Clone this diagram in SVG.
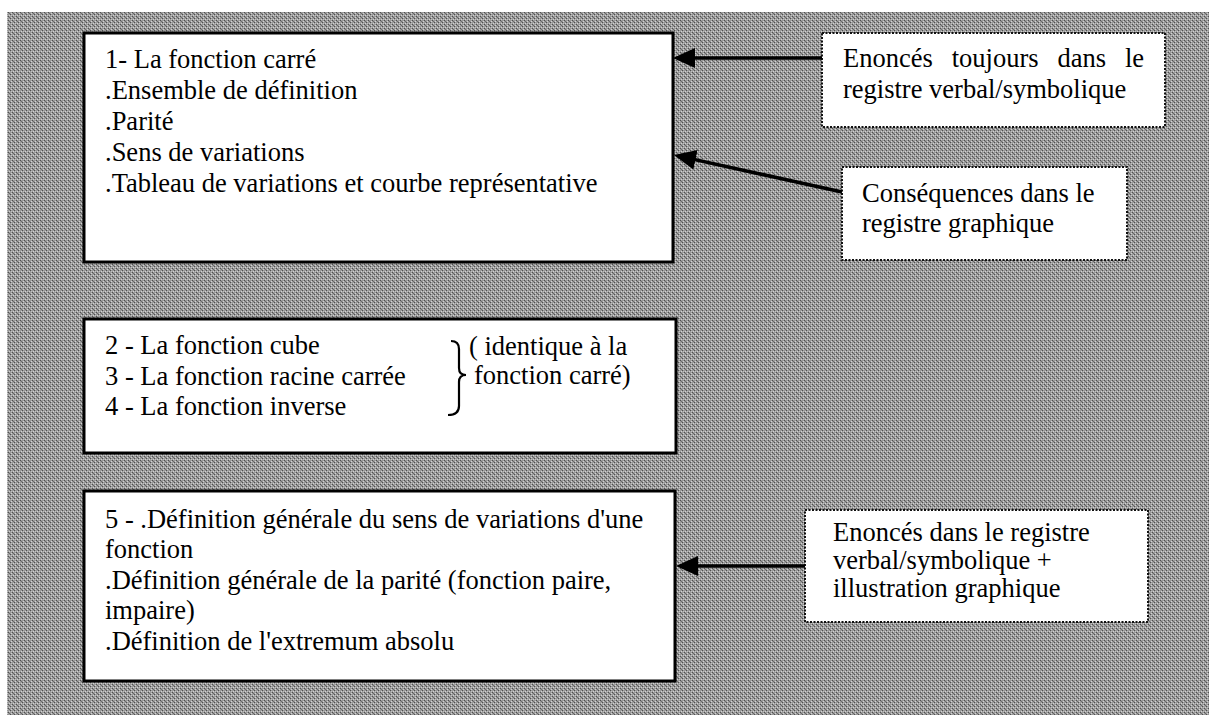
<svg xmlns="http://www.w3.org/2000/svg" width="1209" height="715" viewBox="0 0 1209 715">
<style>
.t{font-family:"Liberation Serif","Times New Roman",Times,serif;font-size:26.5px;fill:#000}
.box{fill:#fff;stroke:#000;stroke-width:3}
.note{fill:#fff;stroke:#111;stroke-width:2;stroke-dasharray:2 1.5}
.conn{stroke:#000;stroke-width:3.5;fill:none}
.brace{stroke:#000;stroke-width:2.2;fill:none}
</style>
<defs>
<pattern id="dither" width="4" height="4" patternUnits="userSpaceOnUse">
<rect width="4" height="4" fill="#9a9a9a"/>
<rect x="0" y="0" width="1" height="1" fill="#505050"/>
<rect x="2" y="2" width="1" height="1" fill="#505050"/>
<rect x="1" y="1" width="1" height="1" fill="#6e6e6e"/>
<rect x="1" y="3" width="1" height="1" fill="#d2d2d2"/>
<rect x="3" y="1" width="1" height="1" fill="#d2d2d2"/>
<rect x="3" y="3" width="1" height="1" fill="#c0c0c0"/>
</pattern>
<marker id="ah" markerUnits="userSpaceOnUse" markerWidth="22" markerHeight="20" refX="18" refY="10" orient="auto">
<path d="M0,0 L22,10 L0,20 z" fill="#000"/>
</marker>
</defs>
<rect id="background" x="7" y="12" width="1202" height="703" fill="url(#dither)"/>

<g id="box1">
<rect class="box" x="84" y="33" width="589" height="229"/>
<text class="t" x="105" y="68">1- La fonction carré</text>
<text class="t" x="105" y="99">.Ensemble de définition</text>
<text class="t" x="105" y="130">.Parité</text>
<text class="t" x="105" y="161">.Sens de variations</text>
<text class="t" x="105" y="192">.Tableau de variations et courbe représentative</text>
</g>

<g id="box2">
<rect class="box" x="84" y="319" width="592" height="134"/>
<text class="t" x="105" y="354">2 - La fonction cube</text>
<text class="t" x="105" y="384.5">3 - La fonction racine carrée</text>
<text class="t" x="105" y="415">4 - La fonction inverse</text>
<path class="brace" d="M451,341 Q459,341 459,349 L459,368 Q459,375 466,375 Q459,375 459,382 L459,406 Q459,415 448,415"/>
<text class="t" x="469" y="355">( identique à la</text>
<text class="t" x="474" y="384">fonction carré)</text>
</g>

<g id="box3">
<rect class="box" x="84" y="491" width="591" height="190"/>
<text class="t" x="105" y="528">5 - .Définition générale du sens de variations d'une</text>
<text class="t" x="105" y="558">fonction</text>
<text class="t" x="105" y="588.5">.Définition générale de la parité (fonction paire,</text>
<text class="t" x="105" y="619">impaire)</text>
<text class="t" x="105" y="649.5">.Définition de l'extremum absolu</text>
</g>

<g id="noteA">
<rect class="note" x="822" y="33" width="343" height="94"/>
<text class="t" y="67"><tspan x="843">Enoncés</tspan><tspan x="951.7">toujours</tspan><tspan x="1057.5">dans</tspan><tspan x="1125">le</tspan></text>
<text class="t" x="843" y="98">registre verbal/symbolique</text>
</g>

<g id="noteB">
<rect class="note" x="842" y="167" width="285" height="93"/>
<text class="t" x="862" y="202">Conséquences dans le</text>
<text class="t" x="862" y="232">registre graphique</text>
</g>

<g id="noteC">
<rect class="note" x="805" y="510" width="343" height="112"/>
<text class="t" x="833" y="541">Enoncés dans le registre</text>
<text class="t" x="833" y="569">verbal/symbolique +</text>
<text class="t" x="833" y="597">illustration graphique</text>
</g>

<g id="connectors">
<line class="conn" x1="822" y1="58" x2="677" y2="58" marker-end="url(#ah)"/>
<line class="conn" x1="842" y1="192" x2="677.9" y2="155.9" marker-end="url(#ah)"/>
<line class="conn" x1="805" y1="566" x2="680" y2="566" marker-end="url(#ah)"/>
</g>
</svg>
